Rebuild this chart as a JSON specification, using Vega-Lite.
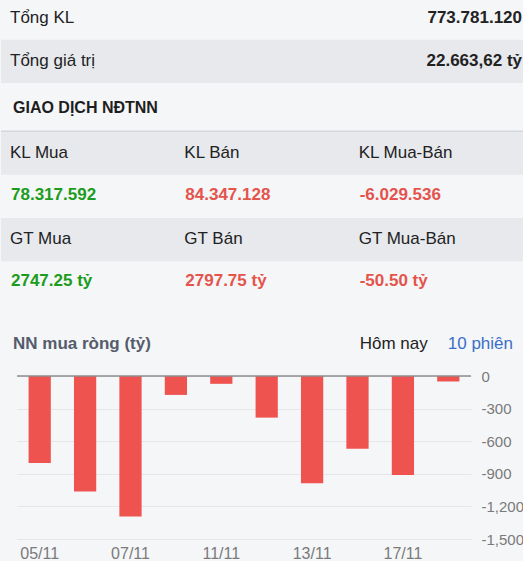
{
  "$schema": "https://vega.github.io/schema/vega-lite/v6.json",
  "description": "Tổng quan giao dịch và NN mua ròng 10 phiên",
  "background": "#f5f6f8",
  "padding": 0,
  "spacing": 0,
  "bounds": "flush",
  "config": {
    "font": "Liberation Sans",
    "view": {"stroke": null},
    "concat": {"spacing": 0}
  },
  "datasets": {
    "table": [
      {"row": "r1", "col": "c1", "text": "Tổng KL", "kind": "label"},
      {"row": "r1", "col": "c3", "text": "773.781.120", "kind": "total"},
      {"row": "r2", "col": "c1", "text": "Tổng giá trị", "kind": "label"},
      {"row": "r2", "col": "c3", "text": "22.663,62 tỷ", "kind": "total"},
      {"row": "r3", "col": "c1", "text": "GIAO DỊCH NĐTNN", "kind": "section"},
      {"row": "r4", "col": "c1", "text": "KL Mua", "kind": "label"},
      {"row": "r4", "col": "c2", "text": "KL Bán", "kind": "label"},
      {"row": "r4", "col": "c3", "text": "KL Mua-Bán", "kind": "label"},
      {"row": "r5", "col": "c1", "text": "78.317.592", "kind": "buy"},
      {"row": "r5", "col": "c2", "text": "84.347.128", "kind": "sell"},
      {"row": "r5", "col": "c3", "text": "-6.029.536", "kind": "sell"},
      {"row": "r6", "col": "c1", "text": "GT Mua", "kind": "label"},
      {"row": "r6", "col": "c2", "text": "GT Bán", "kind": "label"},
      {"row": "r6", "col": "c3", "text": "GT Mua-Bán", "kind": "label"},
      {"row": "r7", "col": "c1", "text": "2747.25 tỷ", "kind": "buy"},
      {"row": "r7", "col": "c2", "text": "2797.75 tỷ", "kind": "sell"},
      {"row": "r7", "col": "c3", "text": "-50.50 tỷ", "kind": "sell"}
    ],
    "bands": [{"row": "r2"}, {"row": "r4"}, {"row": "r6"}],
    "header": [
      {"col": "c1", "text": "NN mua ròng (tỷ)", "kind": "title"},
      {"col": "c3", "text": "Hôm nay", "kind": "option"},
      {"col": "c3", "text": "10 phiên", "kind": "active"}
    ],
    "flows": [
      {"date": "05/11", "value": -801},
      {"date": "06/11", "value": -1063},
      {"date": "07/11", "value": -1294},
      {"date": "10/11", "value": -174},
      {"date": "11/11", "value": -72},
      {"date": "12/11", "value": -383},
      {"date": "13/11", "value": -986},
      {"date": "14/11", "value": -669},
      {"date": "17/11", "value": -912},
      {"date": "18/11", "value": -50.5}
    ]
  },
  "resolve": {"scale": {"x": "independent", "y": "independent", "color": "independent"}},
  "vconcat": [
    {
      "width": 523,
      "height": 303,
      "encoding": {
        "y": {
          "field": "row",
          "type": "nominal",
          "scale": {"type": "band", "domain": ["r1", "r2", "r3", "r4", "r5", "r6", "r7"], "paddingInner": 0, "paddingOuter": 0},
          "axis": null
        }
      },
      "layer": [
        {
          "data": {"name": "bands"},
          "transform": [{"filter": "datum.row == 'r2'"}],
          "mark": {"type": "rect", "color": "#e7e9ed", "yOffset": -3.5, "y2Offset": -3.5},
          "encoding": {}
        },
        {
          "data": {"name": "bands"},
          "transform": [{"filter": "datum.row != 'r2'"}],
          "mark": {"type": "rect", "color": "#e7e9ed", "yOffset": 1.5, "y2Offset": 1.5},
          "encoding": {}
        },
        {
          "data": {"values": [{"row": "r3"}]},
          "mark": {"type": "rule", "color": "#d3d6db", "strokeWidth": 1.5, "yOffset": 1.5},
          "encoding": {"y": {"field": "row", "type": "nominal", "bandPosition": 1}}
        },
        {
          "data": {"name": "table"},
          "encoding": {
            "x": {
              "field": "col",
              "type": "nominal",
              "bandPosition": 0,
              "scale": {"type": "band", "domain": ["c1", "c2", "c3"], "paddingInner": 0, "paddingOuter": 0},
              "axis": null
            },
            "text": {"field": "text"}
          },
          "layer": [
            {
              "transform": [{"filter": "datum.kind == 'label' && (datum.row == 'r1' || datum.row == 'r2')"}],
              "mark": {"type": "text", "align": "left", "dx": 9, "dy": -4, "fontSize": 17, "color": "#222222"}
            },
            {
              "transform": [{"filter": "datum.kind == 'label' && datum.row != 'r1' && datum.row != 'r2'"}],
              "mark": {"type": "text", "align": "left", "dx": 9, "dy": 1, "fontSize": 17, "color": "#222222"}
            },
            {
              "transform": [{"filter": "datum.kind == 'total'"}],
              "mark": {"type": "text", "align": "right", "dx": -2, "dy": -4, "fontSize": 17, "fontWeight": "bold", "color": "#222222"},
              "encoding": {
                "x": {"field": "col", "type": "nominal", "bandPosition": 1}
              }
            },
            {
              "transform": [{"filter": "datum.kind == 'section'"}],
              "mark": {"type": "text", "align": "left", "dx": 12, "fontSize": 16, "fontWeight": "bold", "color": "#1e1e1e"}
            },
            {
              "transform": [{"filter": "datum.kind == 'buy' || datum.kind == 'sell'"}],
              "mark": {"type": "text", "align": "left", "dx": 10, "fontSize": 17, "fontWeight": "bold"},
              "encoding": {
                "color": {
                  "field": "kind",
                  "type": "nominal",
                  "scale": {"domain": ["buy", "sell"], "range": ["#1c9c1c", "#e4544c"]},
                  "legend": null
                }
              }
            }
          ]
        }
      ]
    },
    {
      "width": 523,
      "height": 73,
      "data": {"name": "header"},
      "encoding": {
        "x": {
          "field": "col",
          "type": "nominal",
          "bandPosition": 0,
          "scale": {"type": "band", "domain": ["c1", "c2", "c3"], "paddingInner": 0, "paddingOuter": 0},
          "axis": null
        },
        "text": {"field": "text"}
      },
      "layer": [
        {
          "transform": [{"filter": "datum.kind == 'title'"}],
          "mark": {"type": "text", "align": "left", "dx": 12, "dy": 4, "fontSize": 17, "fontWeight": "bold", "color": "#555c6b"}
        },
        {
          "transform": [{"filter": "datum.kind == 'option'"}],
          "mark": {"type": "text", "align": "left", "dx": 10, "dy": 4, "fontSize": 17, "color": "#222222"}
        },
        {
          "transform": [{"filter": "datum.kind == 'active'"}],
          "mark": {"type": "text", "align": "right", "dx": -11, "dy": 4, "fontSize": 17, "color": "#3a6ec6"},
          "encoding": {"x": {"field": "col", "type": "nominal", "bandPosition": 1}}
        }
      ]
    },
    {
      "spacing": 0,
      "bounds": "flush",
      "resolve": {"scale": {"x": "independent", "y": "independent"}},
      "hconcat": [
        {
          "width": 16,
          "height": 163,
          "data": {"values": []},
          "mark": "text",
          "encoding": {}
        },
        {
          "width": 454,
          "height": 163,
          "data": {"name": "flows"},
          "encoding": {
            "y": {
              "field": "value",
              "type": "quantitative",
              "scale": {"domain": [-1500, 0], "nice": false},
              "axis": {
                "orient": "right",
                "values": [0, -300, -600, -900, -1200, -1500],
                "format": ",.0f",
                "labelExpr": "replace(datum.label, '\u2212', '-')",
                "labelOverlap": false,
                "labelFontSize": 15,
                "labelColor": "#7a7a7a",
                "labelPadding": 10,
                "domain": false,
                "ticks": false,
                "grid": true,
                "gridColor": "#e4e6ea",
                "title": null
              }
            }
          },
          "layer": [
            {
              "mark": {"type": "bar", "color": "#ef534f"},
              "encoding": {
                "x": {
                  "field": "date",
                  "type": "nominal",
                  "sort": null,
                  "scale": {"paddingInner": 0.51, "paddingOuter": 0.255},
                  "axis": {
                    "values": ["05/11", "07/11", "11/11", "13/11", "17/11"],
                    "labelAngle": 0,
                    "labelFontSize": 16,
                    "labelColor": "#7a7a7a",
                    "labelPadding": 6,
                    "domain": false,
                    "ticks": false,
                    "title": null
                  }
                }
              }
            },
            {
              "data": {"values": [{"value": 0}]},
              "mark": {"type": "rule", "color": "#8c8c8c", "strokeWidth": 1.5},
              "encoding": {}
            }
          ]
        }
      ]
    }
  ]
}
